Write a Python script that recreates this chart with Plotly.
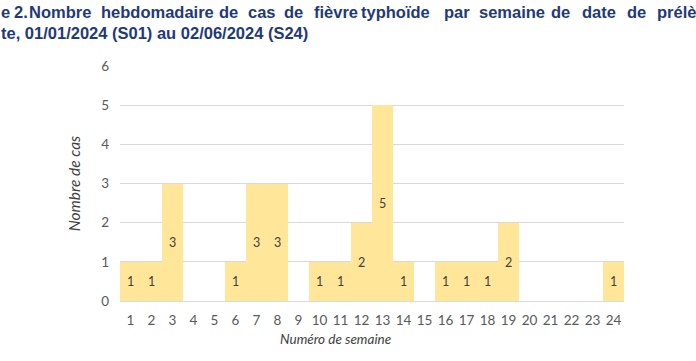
import plotly.graph_objects as go

weeks = [str(i) for i in range(1, 25)]
cases = [1, 1, 3, 0, 0, 1, 3, 3, 0, 1, 1, 2, 5, 1, 0, 1, 1, 1, 2, 0, 0, 0, 0, 1]
labels = [str(v) if v > 0 else "" for v in cases]
y_ticks = [0, 1, 2, 3, 4, 5, 6]

title_line1_words = ["e", "2.", "Nombre", "hebdomadaire", "de", "cas", "de", "fièvre",
                     "typhoïde", "par", "semaine", "de", "date", "de", "prélève"]
title_line2 = "te, 01/01/2024 (S01) au 02/06/2024 (S24)"

L, T, W, H = 120, 66, 504, 235


def px(xp):
    return (xp - L) / W


def py(yp):
    return 1 + (T - yp) / H


fig = go.Figure()
fig.add_trace(go.Bar(
    x=weeks, y=cases, text=labels,
    textposition="inside", insidetextanchor="middle",
    textfont=dict(family="Lato, Open Sans, sans-serif", size=12.5, color="#404040"),
    marker=dict(color="#FFE699", line=dict(width=0)),
))

fig.update_layout(
    width=696, height=361,
    margin=dict(l=L, r=696 - L - W, t=T, b=361 - T - H),
    paper_bgcolor="white", plot_bgcolor="white",
    bargap=0, showlegend=False,
    font=dict(family="Lato, Open Sans, sans-serif", color="#595959"),
    xaxis=dict(type="category", showgrid=False, showline=False, ticks="",
               tickfont=dict(size=13.5, color="#595959"), ticklabelstandoff=9),
    yaxis=dict(range=[0, 6], tickvals=y_ticks, showgrid=True, gridcolor="#D9D9D9",
               gridwidth=1, zeroline=True, zerolinecolor="#D9D9D9", zerolinewidth=1,
               ticks="", tickfont=dict(size=13.5, color="#595959"), ticklabelstandoff=10,
               title=dict(text="<i>Nombre de cas</i>", font=dict(size=15.5, color="#404040"), standoff=16)),
)

fig.add_annotation(x=px(335), y=py(339), xref="paper", yref="paper", text="<i>Numéro de semaine</i>",
                   xanchor="center", yanchor="middle", showarrow=False,
                   font=dict(size=13.5, color="#404040"))

title_font = dict(family="Liberation Sans, Arial, sans-serif", size=16.5, color="#1F3A78")
word_x = [0, 13, 28, 100, 218, 247, 283, 313, 360, 443, 478, 550, 581, 626, 656]
for w, xw in zip(title_line1_words, word_x):
    fig.add_annotation(x=px(xw - 1), y=py(12), xref="paper", yref="paper", xanchor="left", yanchor="middle",
                       text="<b>" + w + "</b>", showarrow=False, font=title_font)
fig.add_annotation(x=px(-1), y=py(33), xref="paper", yref="paper", xanchor="left", yanchor="middle",
                   text="<b>" + title_line2 + "</b>", showarrow=False, font=title_font)

fig.write_html("out.html", config={"displayModeBar": False},
               post_script="document.body.style.margin='0';")
